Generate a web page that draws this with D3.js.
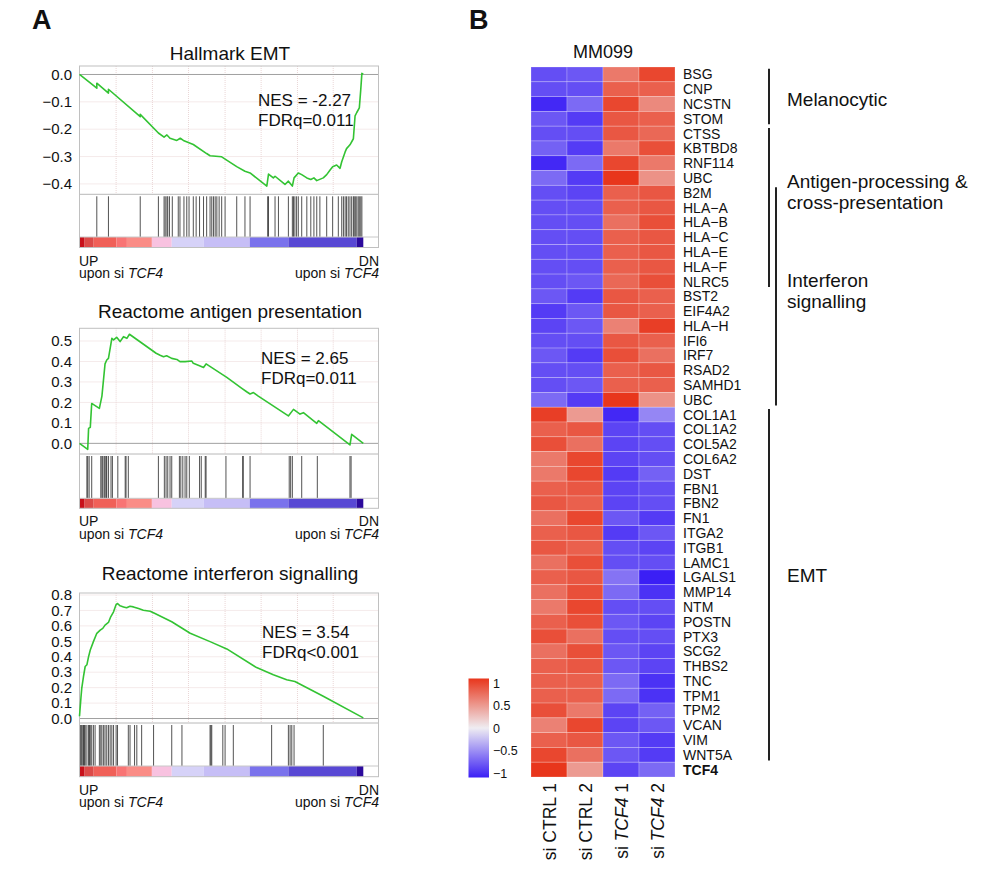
<!DOCTYPE html>
<html><head><meta charset="utf-8">
<script src="https://cdn.jsdelivr.net/npm/d3@7"></script>
<style>
body{margin:0;background:#fff;}
svg text{font-family:"Liberation Sans",Arial,Helvetica,sans-serif;fill:#111;}
</style></head><body>
<svg id="fig" width="982" height="872"></svg>
<script>
// ---------------- DATA ----------------
// Panel A: GSEA running enrichment score curves [rank fraction, ES]
const emtTitle = "Hallmark EMT";
const emtStats = ["NES = -2.27", "FDRq=0.011"];
const emtTicks = [0.0, -0.1, -0.2, -0.3, -0.4];
const emtCurve = [[0,0],[0.061,-0.050],[0.061,-0.032],[0.102,-0.068],[0.102,-0.054],[0.214,-0.154],[0.214,-0.146],
 [0.278,-0.214],[0.298,-0.229],[0.308,-0.221],[0.319,-0.233],[0.343,-0.241],[0.355,-0.233],[0.366,-0.241],[0.401,-0.256],
 [0.448,-0.289],[0.460,-0.297],[0.501,-0.301],[0.554,-0.337],[0.583,-0.354],[0.601,-0.360],[0.660,-0.408],[0.666,-0.364],
 [0.683,-0.378],[0.689,-0.372],[0.724,-0.402],[0.736,-0.390],[0.750,-0.408],[0.756,-0.378],[0.771,-0.360],[0.783,-0.366],
 [0.801,-0.378],[0.815,-0.384],[0.826,-0.378],[0.836,-0.388],[0.859,-0.378],[0.871,-0.366],[0.883,-0.349],[0.892,-0.337],
 [0.906,-0.331],[0.918,-0.343],[0.924,-0.319],[0.936,-0.283],[0.941,-0.271],[0.953,-0.257],[0.965,-0.235],[0.971,-0.151],
 [0.977,-0.139],[0.986,-0.122],[0.991,-0.056],[0.995,0.004],[1.0,0.002]];
const emtHits = [0.061,0.102,0.214,0.278,0.298,0.302,0.308,0.311,0.317,0.327,0.348,0.354,0.368,0.378,0.386,0.401,0.411,
 0.423,0.437,0.448,0.460,0.466,0.472,0.478,0.484,0.492,0.501,0.513,0.554,0.583,0.601,0.663,0.666,0.689,0.701,0.736,
 0.750,0.754,0.759,0.765,0.771,0.783,0.801,0.815,0.826,0.836,0.847,0.871,0.892,0.912,0.924,0.930,0.936,0.941,0.947,
 0.953,0.959,0.965,0.968,0.972,0.977,0.982,0.986,0.991,0.995];

const agTitle = "Reactome antigen presentation";
const agStats = ["NES = 2.65", "FDRq=0.011"];
const agTicks = [0.5, 0.4, 0.3, 0.2, 0.1, 0.0];
const agCurve = [[0,0],[0.029,-0.029],[0.032,0.073],[0.038,0.078],[0.043,0.195],[0.070,0.171],[0.079,0.231],[0.090,0.388],
 [0.096,0.407],[0.102,0.415],[0.114,0.513],[0.120,0.505],[0.131,0.518],[0.143,0.497],[0.155,0.521],[0.167,0.513],
 [0.176,0.533],[0.270,0.440],[0.284,0.430],[0.296,0.423],[0.307,0.428],[0.325,0.415],[0.343,0.410],[0.354,0.399],
 [0.372,0.399],[0.396,0.402],[0.401,0.391],[0.425,0.378],[0.437,0.371],[0.446,0.388],[0.519,0.322],[0.572,0.269],
 [0.589,0.252],[0.601,0.241],[0.613,0.248],[0.630,0.231],[0.736,0.134],[0.754,0.166],[0.777,0.143],[0.789,0.150],
 [0.836,0.098],[0.842,0.111],[0.953,-0.008],[0.959,0.044],[1.0,0.0]];
const agHits = [0.026,0.029,0.034,0.043,0.075,0.079,0.082,0.087,0.090,0.094,0.096,0.102,0.111,0.116,0.135,0.161,0.164,
 0.172,0.278,0.299,0.305,0.311,0.319,0.325,0.352,0.357,0.364,0.372,0.378,0.387,0.423,0.429,0.443,0.446,0.516,0.575,
 0.577,0.601,0.739,0.744,0.750,0.783,0.838,0.953,0.957];

const ifnTitle = "Reactome interferon signalling";
const ifnStats = ["NES = 3.54", "FDRq<0.001"];
const ifnTicks = [0.8, 0.7, 0.6, 0.5, 0.4, 0.3, 0.2, 0.1, 0.0];
const ifnCurve = [[0,0.015],[0.005,0.133],[0.008,0.197],[0.014,0.272],[0.020,0.337],[0.026,0.348],[0.032,0.401],
 [0.038,0.444],[0.049,0.498],[0.061,0.552],[0.073,0.573],[0.082,0.584],[0.090,0.605],[0.102,0.622],[0.110,0.659],
 [0.120,0.691],[0.129,0.738],[0.134,0.745],[0.143,0.730],[0.155,0.723],[0.166,0.717],[0.178,0.727],[0.190,0.723],
 [0.208,0.712],[0.225,0.701],[0.249,0.695],[0.266,0.680],[0.325,0.627],[0.390,0.552],[0.460,0.498],[0.519,0.451],
 [0.624,0.330],[0.683,0.283],[0.730,0.251],[0.759,0.240],[0.859,0.144],[1.0,0.004]];
const ifnHits = [0.002,0.005,0.008,0.012,0.014,0.018,0.020,0.026,0.032,0.035,0.038,0.043,0.049,0.055,0.070,0.075,0.079,
 0.085,0.090,0.096,0.102,0.108,0.114,0.120,0.129,0.134,0.172,0.178,0.194,0.202,0.219,0.261,0.325,0.361,0.460,0.463,
 0.466,0.505,0.513,0.542,0.677,0.736,0.742,0.748,0.756,0.859];

// ranked list colour bar (shared)
const rankBreaks = [0, 0.018, 0.05, 0.13, 0.167, 0.255, 0.325, 0.437, 0.6, 0.736, 0.977, 1];
const rankColors = ["#c8101a","#dc4a48","#f06058","#f87474","#fa8c86","#f8c2e0","#d6d2f8","#c6bef6","#7a72ec","#5848d4","#2c0a9c"];
const rankGrid = [0.129, 0.257, 0.384, 0.513, 0.640, 0.768, 0.894];

// Panel B: heatmap
const hmTitle = "MM099";
const samples = ["si CTRL 1", "si CTRL 2", "si TCF4 1", "si TCF4 2"];
const genes = ["BSG","CNP","NCSTN","STOM","CTSS","KBTBD8","RNF114","UBC","B2M","HLA\u2212A","HLA\u2212B","HLA\u2212C",
 "HLA\u2212E","HLA\u2212F","NLRC5","BST2","EIF4A2","HLA\u2212H","IFI6","IRF7","RSAD2","SAMHD1","UBC",
 "COL1A1","COL1A2","COL5A2","COL6A2","DST","FBN1","FBN2","FN1","ITGA2","ITGB1","LAMC1","LGALS1","MMP14","NTM",
 "POSTN","PTX3","SCG2","THBS2","TNC","TPM1","TPM2","VCAN","VIM","WNT5A","TCF4"];
const zscores = [
 [-0.85,-0.8,0.7,1.0],[-0.85,-0.85,0.85,0.85],[-1.05,-0.7,1.0,0.6],[-0.8,-0.95,0.9,0.85],
 [-0.85,-0.85,0.9,0.8],[-0.75,-0.95,0.7,0.95],[-1.05,-0.7,1.0,0.7],[-0.7,-0.95,1.1,0.55],
 [-0.85,-0.9,0.85,0.9],[-0.85,-0.85,0.85,0.9],[-0.85,-0.85,0.75,0.95],[-0.85,-0.85,0.85,0.9],
 [-0.85,-0.85,0.85,0.9],[-0.85,-0.85,0.85,0.9],[-0.85,-0.8,0.8,0.95],[-0.8,-0.95,0.9,0.85],
 [-0.95,-0.8,0.9,0.85],[-0.9,-0.8,0.65,1.05],[-0.85,-0.85,0.9,0.85],[-0.8,-0.95,0.95,0.75],
 [-0.85,-0.85,0.85,0.9],[-0.85,-0.8,0.85,0.85],[-0.7,-0.95,1.1,0.55],
 [1.05,0.5,-1.05,-0.55],[0.85,0.9,-0.9,-0.85],[0.95,0.75,-0.9,-0.85],[0.7,1.0,-0.9,-0.85],
 [0.7,1.0,-0.95,-0.75],[0.85,0.9,-0.9,-0.85],[0.9,0.85,-0.9,-0.85],[0.75,1.0,-0.8,-0.95],
 [0.85,0.9,-0.95,-0.8],[0.9,0.85,-0.85,-0.9],[0.75,0.95,-0.85,-0.85],[0.85,0.9,-0.65,-1.1],
 [0.75,0.95,-0.7,-1.0],[0.7,1.0,-0.85,-0.85],[0.85,0.95,-0.8,-0.9],[0.95,0.75,-0.85,-0.85],
 [0.75,0.95,-0.8,-0.9],[0.85,0.9,-0.8,-0.9],[0.85,0.85,-0.7,-1.0],[0.85,0.85,-0.7,-1.0],
 [0.95,0.7,-0.9,-0.75],[0.65,1.0,-0.9,-0.8],[0.85,0.9,-0.8,-0.95],[1.0,0.75,-0.8,-0.95],[1.1,0.5,-0.9,-0.7]];
const legendTicks = [1, 0.5, 0, -0.5, -1];
const groupNames = [["Melanocytic"], ["Antigen-processing &", "cross-presentation"], ["Interferon", "signalling"], ["EMT"]];
const groupFirst = [0, 4, 8, 23];
const groupLast = [3, 14, 22, 46];

// ---------------- DRAW ----------------
const svg = d3.select("#fig");

svg.append("text").attr("x", 32).attr("y", 29).attr("font-size", 27).attr("font-weight", "bold").text("A");
svg.append("text").attr("x", 469).attr("y", 29).attr("font-size", 27).attr("font-weight", "bold").text("B");

const xRank = d3.scaleLinear().domain([0, 1]).range([79.5, 363.3]);
const frameL = 79.5, frameR = 378.5;

function italicTCF4(sel, prefix) {
  sel.append("tspan").text(prefix);
  sel.append("tspan").attr("font-style", "italic").text("TCF4");
}

function drawGSEA(cfg) {
  const g = svg.append("g");
  const y = d3.scaleLinear().domain(cfg.yDomain).range([cfg.esBottom, cfg.top]);
  g.append("rect").attr("x", frameL).attr("y", cfg.top).attr("width", frameR - frameL)
    .attr("height", cfg.barBottom - cfg.top).attr("fill", "#fff");
  g.selectAll(".vg").data(rankGrid).join("line")
    .attr("x1", d => xRank(d)).attr("x2", d => xRank(d)).attr("y1", cfg.top).attr("y2", cfg.esBottom)
    .attr("stroke", "#ead6d6").attr("stroke-width", 1).attr("stroke-dasharray", "1,1");
  g.selectAll(".hg").data(cfg.ticks.filter(t => t !== 0)).join("line")
    .attr("x1", frameL).attr("x2", frameR).attr("y1", d => y(d)).attr("y2", d => y(d))
    .attr("stroke", "#ead6d6").attr("stroke-width", 1).attr("stroke-dasharray", "1,1");
  g.append("line").attr("x1", frameL).attr("x2", frameR).attr("y1", y(0)).attr("y2", y(0))
    .attr("stroke", "#a0a0a0").attr("stroke-width", 1);
  g.selectAll(".tl").data(cfg.ticks).join("text")
    .attr("x", 72).attr("y", d => y(d)).attr("dy", "0.35em").attr("text-anchor", "end")
    .attr("font-size", 15).text(d => d3.format(".1f")(d));
  g.selectAll(".hit").data(cfg.hits).join("line")
    .attr("x1", d => xRank(d)).attr("x2", d => xRank(d))
    .attr("y1", cfg.esBottom + 2).attr("y2", cfg.hitBottom)
    .attr("stroke", "#222").attr("stroke-opacity", 0.78).attr("stroke-width", 1);
  g.selectAll(".rb").data(rankColors).join("rect")
    .attr("x", (d, i) => xRank(rankBreaks[i])).attr("width", (d, i) => xRank(rankBreaks[i + 1]) - xRank(rankBreaks[i]))
    .attr("y", cfg.hitBottom).attr("height", cfg.barBottom - cfg.hitBottom).attr("fill", d => d);
  g.append("line").attr("x1", frameL).attr("x2", frameR).attr("y1", cfg.esBottom).attr("y2", cfg.esBottom)
    .attr("stroke", "#b8b8b8");
  g.append("line").attr("x1", frameL).attr("x2", frameR).attr("y1", cfg.hitBottom).attr("y2", cfg.hitBottom)
    .attr("stroke", "#c8c8c8");
  g.append("rect").attr("x", frameL).attr("y", cfg.top).attr("width", frameR - frameL)
    .attr("height", cfg.barBottom - cfg.top).attr("fill", "none").attr("stroke", "#c0c0c0");
  g.append("path").datum(cfg.curve)
    .attr("d", d3.line().x(d => xRank(d[0])).y(d => y(d[1])))
    .attr("fill", "none").attr("stroke", "#33c333").attr("stroke-width", 1.6).attr("stroke-linejoin", "round");
  g.append("text").attr("x", 230).attr("y", cfg.titleY).attr("text-anchor", "middle").attr("font-size", 19).text(cfg.title);
  g.selectAll(".st").data(cfg.stats).join("text")
    .attr("x", cfg.statX).attr("y", (d, i) => cfg.statY + i * 20).attr("font-size", 17).text(d => d);
  g.append("text").attr("x", 79).attr("y", cfg.barBottom + 18).attr("font-size", 14).text("UP");
  g.append("text").attr("x", 79).attr("y", cfg.barBottom + 30.5).attr("font-size", 14).call(italicTCF4, "upon si ");
  g.append("text").attr("x", 379).attr("y", cfg.barBottom + 18).attr("text-anchor", "end").attr("font-size", 14).text("DN");
  g.append("text").attr("x", 379).attr("y", cfg.barBottom + 30.5).attr("text-anchor", "end").attr("font-size", 14).call(italicTCF4, "upon si ");
}

drawGSEA({title: emtTitle, stats: emtStats, ticks: emtTicks, curve: emtCurve, hits: emtHits,
  top: 66, esBottom: 194.3, hitBottom: 237, barBottom: 247.5, yDomain: [-0.438, 0.031],
  titleY: 60, statX: 258, statY: 106});
drawGSEA({title: agTitle, stats: agStats, ticks: agTicks, curve: agCurve, hits: agHits,
  top: 328.3, esBottom: 454, hitBottom: 498.3, barBottom: 508.3, yDomain: [-0.052, 0.562],
  titleY: 318, statX: 261, statY: 364});
drawGSEA({title: ifnTitle, stats: ifnStats, ticks: ifnTicks, curve: ifnCurve, hits: ifnHits,
  top: 593, esBottom: 723, hitBottom: 766, barBottom: 776.7, yDomain: [-0.029, 0.813],
  titleY: 580, statX: 262, statY: 638});

// ---------------- HEATMAP ----------------
const hm = svg.append("g");
const xCol = d3.scaleBand().domain(d3.range(samples.length)).range([531, 675]);
const yRow = d3.scaleBand().domain(d3.range(genes.length)).range([67, 777]);
const color = d3.scaleLinear().domain([-1.1, 0, 1.1]).range(["#3b1ff5", "#efedf2", "#e8361c"]).interpolate(d3.interpolateRgb);

hm.append("text").attr("x", 603).attr("y", 58).attr("text-anchor", "middle").attr("font-size", 18).text(hmTitle);

const cells = [];
zscores.forEach((row, r) => row.forEach((v, c) => cells.push({r, c, v})));
hm.selectAll(".cell").data(cells).join("rect")
  .attr("x", d => xCol(d.c)).attr("y", d => yRow(d.r))
  .attr("width", xCol.bandwidth()).attr("height", yRow.bandwidth())
  .attr("fill", d => color(d.v)).attr("stroke", "rgba(255,255,255,0.28)").attr("stroke-width", 0.8);

hm.selectAll(".gl").data(genes).join("text")
  .attr("x", 683).attr("y", (d, i) => yRow(i) + yRow.bandwidth() / 2).attr("dy", "0.36em")
  .attr("font-size", 14).attr("font-weight", (d, i) => i === genes.length - 1 ? "bold" : "normal").text(d => d);

samples.forEach((s, i) => {
  const cx = xCol(i) + xCol.bandwidth() / 2;
  const t = hm.append("text").attr("transform", `translate(${cx + 6.5},783) rotate(-90)`)
    .attr("text-anchor", "end").attr("font-size", 17.5);
  if (s.includes("TCF4")) { t.append("tspan").text("si "); t.append("tspan").attr("font-style", "italic").text("TCF4"); t.append("tspan").text(s.slice(7)); }
  else t.text(s);
});

const bracketX = [769, 769, 776, 769];
const labelRow = [2.2, 8.45, 15.1, 34.35];
groupNames.forEach((lines, i) => {
  hm.append("line").attr("x1", bracketX[i]).attr("x2", bracketX[i])
    .attr("y1", yRow(groupFirst[i]) + 1.8).attr("y2", yRow(groupLast[i]) + yRow.bandwidth() - 1.8)
    .attr("stroke", "#222").attr("stroke-width", 2);
  const cy = 67 + labelRow[i] * yRow.step();
  lines.forEach((l, k) => {
    hm.append("text").attr("x", 787).attr("y", cy + (k - (lines.length - 1) / 2) * 21).attr("dy", "0.36em")
      .attr("font-size", 19).attr("fill", "#222").text(l);
  });
});

const legY = d3.scaleLinear().domain([-1, 1]).range([773, 683]);
const defs = svg.append("defs");
const grad = defs.append("linearGradient").attr("id", "lg").attr("x1", 0).attr("x2", 0).attr("y1", 1).attr("y2", 0);
d3.range(0, 1.0001, 0.05).forEach(t => {
  const v = -1.1 + 2.2 * t;
  grad.append("stop").attr("offset", t).attr("stop-color", color(v));
});
hm.append("rect").attr("x", 468.5).attr("y", legY(1.1)).attr("width", 20.5).attr("height", legY(-1.1) - legY(1.1))
  .attr("fill", "url(#lg)");
hm.selectAll(".lt").data(legendTicks).join("text")
  .attr("x", 493).attr("y", d => legY(d)).attr("dy", "0.36em").attr("font-size", 12.5)
  .text(d => d3.format("")(d).replace("-", "\u2212"));
</script>
</body></html>
